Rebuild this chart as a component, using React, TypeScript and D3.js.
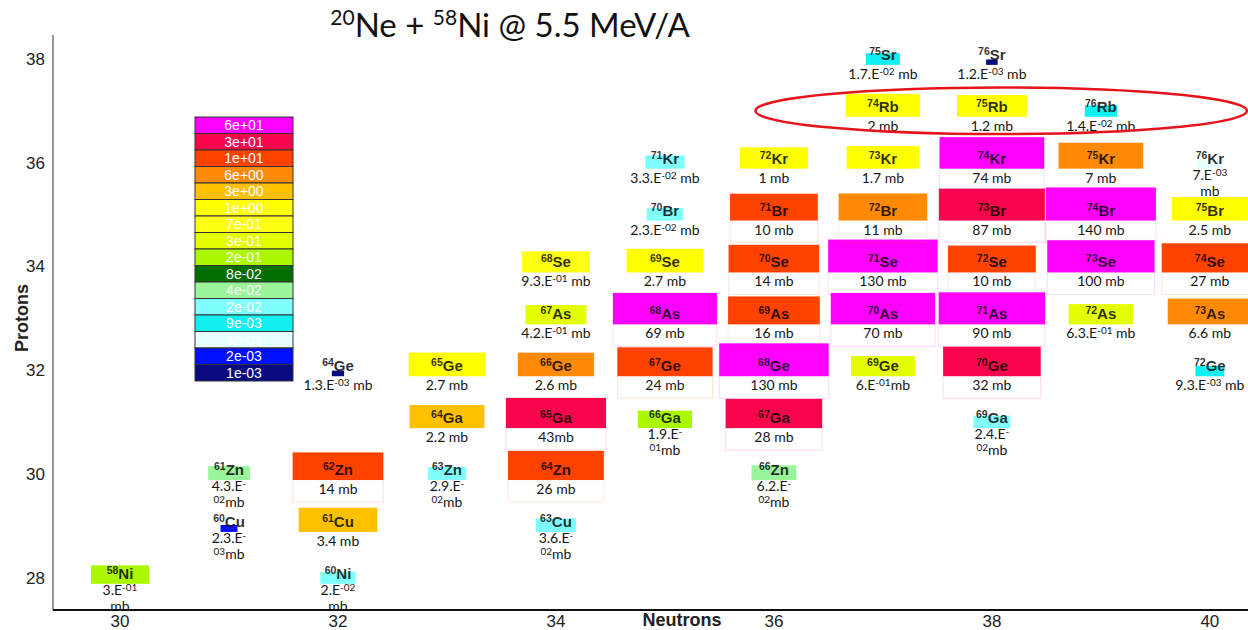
import React from "react";
import * as d3 from "d3";

const WIDTH = 1248;
const HEIGHT = 630;

// Axis ticks
const neutronTicks = [30, 32, 34, 36, 38, 40];
const protonTicks = [28, 30, 32, 34, 36, 38];

// Element symbols indexed by proton number
const protonNumbers = [28, 29, 30, 31, 32, 33, 34, 35, 36, 37, 38];
const elementSymbols = ["Ni", "Cu", "Zn", "Ga", "Ge", "As", "Se", "Br", "Kr", "Rb", "Sr"];

// Colour legend (cross section in mb)
const legendLevels = [
  "6e+01", "3e+01", "1e+01", "6e+00", "3e+00", "1e+00", "7e-01", "3e-01",
  "2e-01", "8e-02", "4e-02", "2e-02", "9e-03", "4e-03", "2e-03", "1e-03",
];
const legendColours = [
  "#ff00ff", "#f7064c", "#ff4200", "#ff8a05", "#ffc000", "#ffff00", "#ffff14", "#e3ff00",
  "#acf800", "#006e00", "#9af59a", "#80ffff", "#10f0f0", "#e6ffff", "#0010ff", "#0a0a80",
];

// Measured residues: proton number, neutron number, cross section text, legend bin
const nuclideZ = [
  28, 28,
  29, 29, 29,
  30, 30, 30, 30, 30,
  31, 31, 31, 31, 31,
  32, 32, 32, 32, 32, 32, 32, 32,
  33, 33, 33, 33, 33, 33, 33,
  34, 34, 34, 34, 34, 34, 34,
  35, 35, 35, 35, 35, 35,
  36, 36, 36, 36, 36, 36,
  37, 37, 37,
  38, 38,
];
const nuclideN = [
  30, 32,
  31, 32, 34,
  31, 32, 33, 34, 36,
  33, 34, 35, 36, 38,
  32, 33, 34, 35, 36, 37, 38, 40,
  34, 35, 36, 37, 38, 39, 40,
  34, 35, 36, 37, 38, 39, 40,
  35, 36, 37, 38, 39, 40,
  35, 36, 37, 38, 39, 40,
  37, 38, 39,
  37, 38,
];
// "|" marks a line break in the printed value
const crossSectionLabels = [
  "3.E-01|mb", "2.E-02|mb",
  "2.3.E-|03mb", "3.4 mb", "3.6.E-|02mb",
  "4.3.E-|02mb", "14 mb", "2.9.E-|02mb", "26 mb", "6.2.E-|02mb",
  "2.2 mb", "43mb", "1.9.E-|01mb", "28 mb", "2.4.E-|02mb",
  "1.3.E-03 mb", "2.7 mb", "2.6 mb", "24 mb", "130 mb", "6.E-01mb", "32 mb", "9.3.E-03 mb",
  "4.2.E-01 mb", "69 mb", "16 mb", "70 mb", "90 mb", "6.3.E-01 mb", "6.6 mb",
  "9.3.E-01 mb", "2.7 mb", "14 mb", "130 mb", "10 mb", "100 mb", "27 mb",
  "2.3.E-02 mb", "10 mb", "11 mb", "87 mb", "140 mb", "2.5 mb",
  "3.3.E-02 mb", "1 mb", "1.7 mb", "74 mb", "7 mb", "7.E-03|mb",
  "2 mb", "1.2 mb", "1.4.E-02 mb",
  "1.7.E-02 mb", "1.2.E-03 mb",
];
const colourBins = [
  "2e-01", "2e-02",
  "2e-03", "3e+00", "2e-02",
  "4e-02", "1e+01", "2e-02", "1e+01", "4e-02",
  "3e+00", "3e+01", "2e-01", "3e+01", "2e-02",
  "1e-03", "1e+00", "6e+00", "1e+01", "6e+01", "3e-01", "3e+01", "9e-03",
  "3e-01", "6e+01", "1e+01", "6e+01", "6e+01", "3e-01", "6e+00",
  "7e-01", "1e+00", "1e+01", "6e+01", "1e+01", "6e+01", "1e+01",
  "2e-02", "1e+01", "6e+00", "3e+01", "6e+01", "1e+00",
  "2e-02", "1e+00", "1e+00", "6e+01", "6e+00", "4e-03",
  "1e+00", "1e+00", "9e-03",
  "9e-03", "1e-03",
];

// Highlighted Rb isotopes (row, neutron span)
const highlightZ = 37;
const highlightN = [35.83, 40.34];

type Seg = { text: string; sup: boolean };

function parseValue(label: string): number {
  const s = label.replace("|", "").replace("mb", "").trim().replace(".E", "E");
  return parseFloat(s);
}

function valueLines(label: string): Seg[][] {
  const lines: Seg[][] = [[]];
  let sup = false;
  for (const ch of label) {
    if (ch === "|") {
      lines.push([]);
      continue;
    }
    let isSup = false;
    if (sup && /[-0-9]/.test(ch)) isSup = true;
    else sup = false;
    const line = lines[lines.length - 1];
    const last = line[line.length - 1];
    if (last && last.sup === isSup) last.text += ch;
    else line.push({ text: ch, sup: isSup });
    if (ch === "E") sup = true;
  }
  return lines;
}

function SegText({ segs, x, y }: { segs: Seg[]; x: number; y: number }) {
  let shifted = false;
  return (
    <text x={x} y={y} textAnchor="middle" fontFamily="Lato, 'Open Sans', sans-serif" fontSize={14} fill="#151515">
      {segs.map((s, i) => {
        let dy = 0;
        if (s.sup && !shifted) { dy = -4; shifted = true; }
        else if (!s.sup && shifted) { dy = 4; shifted = false; }
        return (
          <tspan key={i} dy={dy} fontSize={s.sup ? 10 : 14}>
            {s.text}
          </tspan>
        );
      })}
    </text>
  );
}

export default function App() {
  const x = d3.scaleLinear().domain([29.385, 40.35]).range([53, 1248]);
  const y = d3.scaleLinear().domain([27.38, 38.46]).range([610, 35]);
  const colour = d3.scaleOrdinal<string, string>().domain(legendLevels).range(legendColours);
  const boxW = d3.scaleLog().domain([0.001, 140]).range([10, 110]).clamp(true);
  const boxH = d3.scaleLog().domain([0.001, 140]).range([5, 33]).clamp(true);

  const nuclides = nuclideZ.map((z, i) => {
    const n = nuclideN[i];
    const label = crossSectionLabels[i];
    return {
      z,
      n,
      mass: z + n,
      symbol: elementSymbols[protonNumbers.indexOf(z)],
      label,
      value: parseValue(label),
      bin: colourBins[i],
    };
  });

  const [x0, x1] = x.range();
  const [yBottom, yTop] = y.range();

  const legendX = 195;
  const legendY = 117;
  const legendW = 98;
  const legendRow = 16.5;

  return (
    <svg
      width={WIDTH}
      height={HEIGHT}
      style={{ position: "absolute", left: 0, top: 0, background: "#fff" }}
      fontFamily="'Liberation Sans', Arial, sans-serif"
    >
      <rect width={WIDTH} height={HEIGHT} fill="#fff" />

      {/* title */}
      <text x={510} y={37} textAnchor="middle" fontFamily="Lato, 'Open Sans', sans-serif" fontSize={33} fill="#111">
        <tspan fontSize={21} dy={-12}>20</tspan>
        <tspan dy={12}>Ne + </tspan>
        <tspan fontSize={21} dy={-12}>58</tspan>
        <tspan dy={12}>Ni @ 5.5 MeV/A</tspan>
      </text>

      {/* axes */}
      <line x1={x0} x2={x0} y1={yTop} y2={yBottom} stroke="#555" strokeWidth={1.2} />
      <line x1={x0} x2={x1} y1={yBottom} y2={yBottom} stroke="#111" strokeWidth={2} />
      {protonTicks.map((t) => (
        <text key={t} x={45} y={y(t) + 6} textAnchor="end" fontSize={17} fill="#222">
          {t}
        </text>
      ))}
      {neutronTicks.map((t) => (
        <text key={t} x={x(t)} y={627} textAnchor="middle" fontSize={17} fill="#222">
          {t}
        </text>
      ))}
      <text x={682} y={626} textAnchor="middle" fontSize={18} fontWeight="bold" fill="#222">
        Neutrons
      </text>
      <text
        transform={`translate(28, 318) rotate(-90)`}
        textAnchor="middle"
        fontSize={18}
        fontWeight="bold"
        fill="#222"
      >
        Protons
      </text>

      {/* legend */}
      <g>
        {legendLevels.map((lv, i) => (
          <g key={lv}>
            <rect
              x={legendX}
              y={legendY + i * legendRow}
              width={legendW}
              height={legendRow}
              fill={colour(lv)}
              stroke="#333"
              strokeWidth={1}
            />
            <text
              x={legendX + legendW / 2}
              y={legendY + i * legendRow + legendRow / 2 + 5}
              textAnchor="middle"
              fontSize={14}
              fill="#fff"
            >
              {lv}
            </text>
          </g>
        ))}
      </g>

      {/* nuclide boxes */}
      {nuclides.map((d, i) => {
        const w = boxW(d.value);
        const h = boxH(d.value);
        const cx = x(d.n);
        const bottom = y(d.z) + 6;
        return (
          <g key={`b${i}`}>
            {d.value >= 10 && (
              <rect
                x={cx - w / 2}
                y={bottom - h}
                width={w}
                height={h + 22}
                fill="none"
                stroke={colour(d.bin)}
                strokeOpacity={0.15}
                strokeWidth={1}
              />
            )}
            <rect x={cx - w / 2} y={bottom - h} width={w} height={h} fill={colour(d.bin)} />
          </g>
        );
      })}

      {/* nuclide names and cross sections */}
      {nuclides.map((d, i) => {
        const cx = x(d.n);
        const cy = y(d.z);
        const lines = valueLines(d.label);
        return (
          <g key={`t${i}`}>
            <text x={cx} y={cy + 1} textAnchor="middle" fontWeight="bold" fill="#000" fillOpacity={0.82}>
              <tspan fontSize={10.5} dy={-5}>{d.mass}</tspan>
              <tspan fontSize={15} dy={5}>{d.symbol}</tspan>
            </text>
            {lines.length === 1 ? (
              <SegText segs={lines[0]} x={cx} y={cy + 20} />
            ) : (
              lines.map((segs, j) => <SegText key={j} segs={segs} x={cx} y={cy + 17 + j * 16} />)
            )}
          </g>
        );
      })}

      {/* highlighted Rb chain */}
      <ellipse
        cx={(x(highlightN[0]) + x(highlightN[1])) / 2}
        cy={y(highlightZ)}
        rx={(x(highlightN[1]) - x(highlightN[0])) / 2}
        ry={y(highlightZ - 0.45) - y(highlightZ)}
        fill="none"
        stroke="#e5141b"
        strokeWidth={2.5}
      />
    </svg>
  );
}
